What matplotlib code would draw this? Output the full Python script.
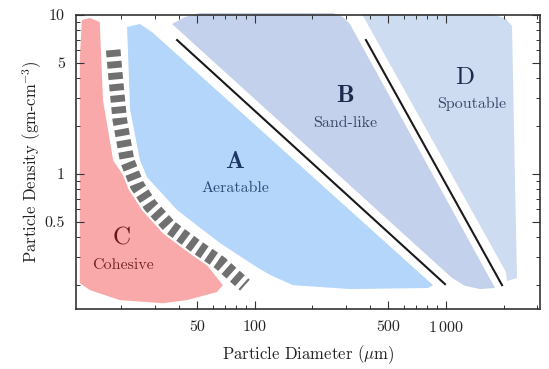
import matplotlib
matplotlib.use("Agg")
import matplotlib.pyplot as plt
from matplotlib.patches import Polygon
from matplotlib.ticker import FixedLocator, FixedFormatter, NullFormatter

plt.rcParams["font.family"] = ["cmr10", "DejaVu Serif"]
plt.rcParams["mathtext.fontset"] = "cm"
plt.rcParams["axes.formatter.use_mathtext"] = True

# region outlines: (diameter um, density g/cm3)
c_diam = [12.4, 13.7, 15.4, 16.0, 18.1, 23.5, 34.6, 53.4, 67.9, 63.2, 44.0, 33.0, 19.6, 13.7, 12.1, 12.1]
c_dens = [9.30, 9.58, 9.03, 2.92, 1.22, 0.76, 0.464, 0.288, 0.200, 0.181, 0.161, 0.154, 0.161, 0.186, 0.206, 5.21]

a_diam = [21.4, 25.0, 28.9, 855, 805, 314, 158, 120, 102, 65.6, 39.1, 27.2, 25.0, 22.2]
a_dens = [8.41, 8.78, 7.82, 0.200, 0.192, 0.189, 0.200, 0.232, 0.260, 0.368, 0.594, 0.957, 1.22, 2.53]

b_diam = [36.8, 43.0, 51.5, 256, 289, 314, 1806, 1507, 1257, 1075, 930]
b_dens = [8.78, 9.71, 10.3, 10.3, 9.71, 8.78, 0.192, 0.189, 0.198, 0.222, 0.260]

d_diam = [363, 1700, 2036, 2216, 2297, 2353, 2086, 2061]
d_dens = [10.15, 10.15, 9.58, 8.53, 0.917, 0.222, 0.212, 0.242]

# boundary lines
ab_diam = [39.1, 988]
ab_dens = [6.96, 0.203]
bd_diam = [381, 1965]
bd_dens = [6.96, 0.200]

# hatched C/A transition band
ca_diam = [18.1, 18.7, 19.6, 21.4, 24.1, 28.2, 35.9, 49.7, 65.6, 88.6]
ca_dens = [6.03, 3.90, 2.19, 1.22, 0.853, 0.638, 0.464, 0.347, 0.276, 0.200]

x_major = [50, 100, 500, 1000]
x_labels = ["50", "100", "500", r"$1\,000$"]
x_minor = [20, 30, 40, 60, 70, 80, 90, 200, 300, 400, 600, 700, 800, 900, 2000, 3000]
y_major = [0.5, 1, 5, 10]
y_labels = ["0.5", "1", "5", "10"]
y_minor = [0.2, 0.3, 0.4, 0.6, 0.7, 0.8, 0.9, 2, 3, 4, 6, 7, 8, 9]

fig = plt.figure(figsize=(5.49, 3.69), dpi=100)
ax = fig.add_axes([0.1384, 0.1626, 0.8452, 0.7967])
ax.set_xscale("log")
ax.set_yscale("log")
ax.set_xlim(11.56, 3105)
ax.set_ylim(0.1416, 10)

regions = [
    (c_diam, c_dens, "#f9a9aa", True),
    (a_diam, a_dens, "#b3d6fa", True),
    (b_diam, b_dens, "#c4d1ec", False),
    (d_diam, d_dens, "#cddcf0", False),
]
for xs, ys, col, clip in regions:
    ax.add_patch(Polygon(list(zip(xs, ys)), closed=True, facecolor=col,
                         edgecolor="none", zorder=1, clip_on=clip))

ax.plot(ab_diam, ab_dens, color="#1a1a1a", lw=1.5, zorder=3)
ax.plot(bd_diam, bd_dens, color="#1a1a1a", lw=1.5, zorder=3)

# white margin round the band, then the band itself
ax.plot(ca_diam, ca_dens, color="white", lw=13.5, zorder=1.5,
        solid_capstyle="butt", solid_joinstyle="round")
band, = ax.plot(ca_diam, ca_dens, color="#707070", lw=10.5, zorder=2,
                solid_capstyle="butt", dash_capstyle="butt", solid_joinstyle="round")
band.set_dashes([0.47, 0.31])

ax.text(78.6, 1.19, "A", family="cmb10", fontsize=18, color="#1d3866", ha="center", va="center")
ax.text(78.6, 0.817, "Aeratable", fontsize=11.5, color="#2a4c7a", ha="center", va="center")
ax.text(20.1, 0.396, "C", fontsize=18, color="#661818", ha="center", va="center")
ax.text(20.4, 0.268, "Cohesive", fontsize=11.5, color="#742828", ha="center", va="center")
ax.text(296, 3.09, "B", family="cmb10", fontsize=18, color="#1c2a4e", ha="center", va="center")
ax.text(296, 2.09, "Sand-like", fontsize=11.5, color="#3a4868", ha="center", va="center")
ax.text(1257, 4.01, "D", fontsize=18, color="#1c2a4e", ha="center", va="center")
ax.text(1368, 2.76, "Spoutable", fontsize=11.5, color="#3a4868", ha="center", va="center")

ax.xaxis.set_major_locator(FixedLocator(x_major))
ax.xaxis.set_major_formatter(FixedFormatter(x_labels))
ax.xaxis.set_minor_locator(FixedLocator(x_minor))
ax.xaxis.set_minor_formatter(NullFormatter())
ax.yaxis.set_major_locator(FixedLocator(y_major))
ax.yaxis.set_major_formatter(FixedFormatter(y_labels))
ax.yaxis.set_minor_locator(FixedLocator(y_minor))
ax.yaxis.set_minor_formatter(NullFormatter())

ax.tick_params(which="both", direction="in", top=True, right=True, color="#333333",
               labelsize=11.5, labelcolor="#222222")
ax.tick_params(which="major", length=5.5, width=0.8, pad=8)
ax.tick_params(which="minor", length=3, width=0.7)
for s in ax.spines.values():
    s.set_linewidth(1.2)
    s.set_color("#333333")
    s.set_zorder(4)

ax.set_xlabel(r"Particle Diameter ($\mu$m)", fontsize=12, color="#222222", labelpad=6)
ax.set_ylabel(r"Particle Density (gm-cm$^{-3}$)", fontsize=12, color="#222222", labelpad=0)

fig.savefig("out.png", dpi=100)
